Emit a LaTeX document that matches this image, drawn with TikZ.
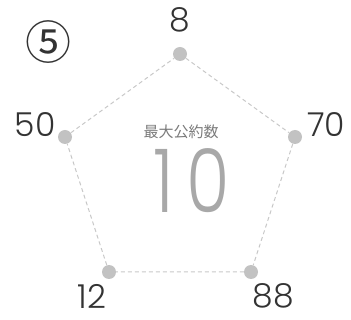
\documentclass[tikz,border=0pt]{standalone}
\usepackage{fontspec}
\setmainfont{Poppins Light}
\newfontfamily\cjk{Noto Sans CJK JP}
\definecolor{dotgray}{HTML}{C2C2C2}
\definecolor{linegray}{HTML}{C8C8C8}
\definecolor{numgray}{HTML}{A8A8A8}
\definecolor{txtdark}{HTML}{333333}
\definecolor{capgray}{HTML}{7A7A7A}
\begin{document}
\begin{tikzpicture}[x=1pt,y=-1pt,
  vdot/.style={circle,fill=dotgray,inner sep=0pt,minimum size=14pt},
  vlabel/.style={text=txtdark,font=\fontsize{33}{33}\selectfont,inner sep=0pt,anchor=center},
  edge/.style={draw=linegray,line width=1pt,dash pattern=on 4pt off 3pt}]
\useasboundingbox (0,0) rectangle (351,320);
\node[vdot] (a) at (180,54) {};
\node[vdot] (b) at (295,137) {};
\node[vdot] (c) at (251,272) {};
\node[vdot] (d) at (109,272) {};
\node[vdot] (e) at (65,137) {};
\draw[edge] (a) -- (b) -- (c) -- (d) -- (e) -- (a);
\node[vlabel] (la) at (180,20) {8};
\node[vlabel] (lb) at (326,125) {70};
\node[vlabel] (lc) at (273,296) {88};
\node[vlabel] (ld) at (92,296) {12};
\node[vlabel] (le) at (35,125) {50};
\node[text=txtdark,font=\cjk\fontsize{46}{46}\selectfont,inner sep=0pt] (num) at (48,42) {⑤};
\node[text=capgray,font=\cjk\fontsize{15}{15}\selectfont,inner sep=0pt] (cap) at (181,132) {最大公約数};
\node[text=numgray,font=\fontsize{88}{88}\selectfont\addfontfeature{FakeStretch=0.8,LetterSpace=14},inner sep=0pt] (gcd) at (192,181) {10};
\end{tikzpicture}
\end{document}
